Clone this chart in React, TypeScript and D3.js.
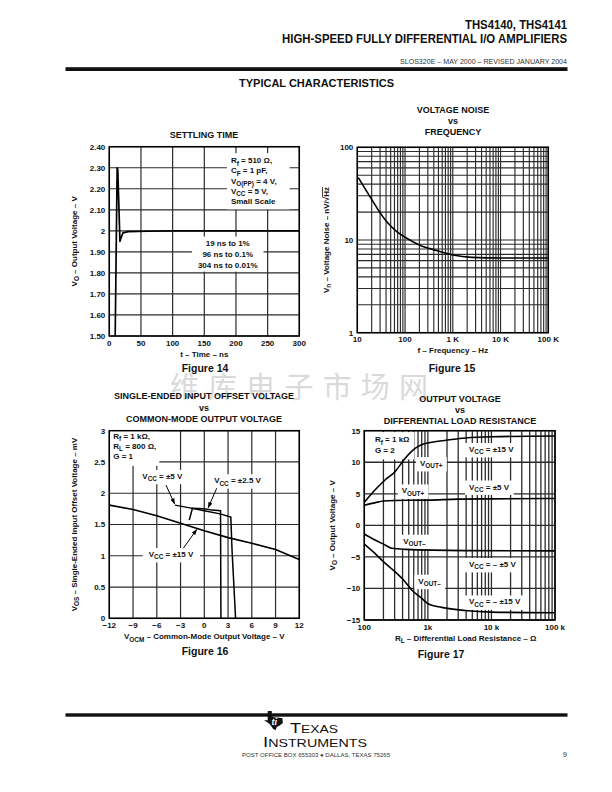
import React, { useRef, useLayoutEffect, useState } from 'react';
import * as d3 from 'd3';

const FONT = "'Liberation Sans', Arial, Helvetica, sans-serif";
const INK = '#111';
const GRID = '#2b2b2b';

// ---------- Figure 14: settling time ----------
const settlingTimeNs = [9.3, 12.4, 13.4, 16.8, 18.3, 21.5, 30, 60, 100, 300];
const settlingVolts = [1.5, 2.3, 2.29, 1.95, 1.965, 1.99, 1.996, 1.998, 2.0, 2.0];
const settlingXTicks = [0, 50, 100, 150, 200, 250, 300];
const settlingYTicks = [1.5, 1.6, 1.7, 1.8, 1.9, 2.0, 2.1, 2.2, 2.3, 2.4];
const settlingYLabels = ['1.50', '1.60', '1.70', '1.80', '1.90', '2', '2.10', '2.20', '2.30', '2.40'];

// ---------- Figure 15: voltage noise ----------
const noiseFreqHz = [10.5, 18.4, 27.6, 41, 67, 100, 204, 457, 1000, 2500, 10000, 100000];
const noiseNv = [47, 29.4, 21, 15.8, 12.3, 10.7, 8.8, 7.7, 6.9, 6.5, 6.4, 6.4];
const noiseXTicks = [10, 100, 1000, 10000, 100000];
const noiseXLabels = ['10', '100', '1 K', '10 K', '100 K'];
const noiseYTicks = [1, 10, 100];
const noiseYLabels = ['1', '10', '100'];

// ---------- Figure 16: offset vs VOCM ----------
const vocm15 = [-12, -9, -6, -3, 0, 3, 6, 9, 12];
const vos15 = [1.81, 1.74, 1.64, 1.52, 1.4, 1.29, 1.2, 1.1, 0.94];
const vocm5 = [-3.7, -2, 0, 2, 3.35, 3.5, 3.95];
const vos5 = [1.81, 1.77, 1.72, 1.67, 1.62, 1.1, 0];
const vocm25 = [-1.9, -1.5, 0, 1, 2.05, 2.1];
const vos25 = [1.57, 1.76, 1.75, 1.73, 1.72, 0];
const vocmTicks = [-12, -9, -6, -3, 0, 3, 6, 9, 12];
const vocmLabels = ['−12', '−9', '−6', '−3', '0', '3', '6', '9', '12'];
const vosTicks = [0, 0.5, 1, 1.5, 2, 2.5, 3];
const vosLabels = ['0', '0.5', '1', '1.5', '2', '2.5', '3'];

// ---------- Figure 17: output voltage vs load ----------
const rlPos15 = [100, 147, 212, 304, 437, 627, 848, 1217, 2370, 3840, 10000, 100000];
const voPos15 = [3.65, 5.6, 7.19, 8.5, 10.6, 12.2, 12.9, 13.2, 13.6, 13.84, 14.05, 14.15];
const rlPos5 = [100, 150, 200, 300, 1000, 3000, 10000, 100000];
const voPos5 = [3.2, 3.6, 3.85, 3.95, 4.0, 4.15, 4.2, 4.25];
const rlNeg5 = [100, 147, 212, 270, 437, 3840, 100000];
const voNeg5 = [-1.37, -2.32, -3.11, -3.64, -3.8, -4.0, -4.05];
const rlNeg15 = [100, 147, 212, 304, 437, 558, 800, 1020, 1650, 3840, 10000, 100000];
const voNeg15 = [-2.96, -4.43, -6.0, -7.34, -8.93, -10.25, -11.56, -12.46, -13.0, -13.5, -13.75, -13.85];
const rlTicks = [100, 1000, 10000, 100000];
const rlLabels = ['100', '1k', '10 k', '100 k'];
const voTicks = [-15, -10, -5, 0, 5, 10, 15];
const voLabels = ['−15', '−10', '−5', '0', '5', '10', '15'];

type Seg = string | { sub: string };

function Rich({ parts, fs }: { parts: Seg[]; fs: number }) {
  let shifted = false;
  const off = fs * 0.3;
  return (
    <>
      {parts.map((p, i) => {
        if (typeof p === 'string') {
          const dy = shifted ? -off : 0;
          shifted = false;
          return (
            <tspan key={i} dy={dy}>
              {p}
            </tspan>
          );
        }
        const dy = shifted ? 0 : off;
        shifted = true;
        return (
          <tspan key={i} dy={dy} fontSize={fs * 0.8}>
            {p.sub}
          </tspan>
        );
      })}
    </>
  );
}

function Boxed({ pad = [3, 3, 3, 3], children }: { pad?: number[]; children: React.ReactNode }) {
  const ref = useRef<SVGGElement>(null);
  const [bb, setBb] = useState<{ x: number; y: number; w: number; h: number } | null>(null);
  useLayoutEffect(() => {
    if (ref.current) {
      const b = ref.current.getBBox();
      setBb({ x: b.x, y: b.y, w: b.width, h: b.height });
    }
  }, []);
  return (
    <g>
      {bb && (
        <rect
          x={bb.x - pad[3]}
          y={bb.y - pad[0]}
          width={bb.w + pad[1] + pad[3]}
          height={bb.h + pad[0] + pad[2]}
          fill="#fff"
        />
      )}
      <g ref={ref}>{children}</g>
    </g>
  );
}

const TICK_FS = 8;
const TITLE_FS = 9;
const AXIS_FS = 8;
const ANN_FS = 8;

function logMinor(from: number, to: number) {
  const out: number[] = [];
  for (let d = from; d < to; d *= 10) for (let k = 1; k < 10; k++) out.push(d * k);
  out.push(to);
  return out;
}

function Titles({ cx, lines, y }: { cx: number; lines: string[]; y: number[] }) {
  return (
    <>
      {lines.map((l, i) => (
        <text key={i} x={cx} y={y[i]} textAnchor="middle" fontSize={TITLE_FS} fontWeight="bold" fill={INK}>
          {l}
        </text>
      ))}
    </>
  );
}

function Fig14() {
  const x = d3.scaleLinear().domain([0, 300]).range([109.3, 299.3]);
  const y = d3.scaleLinear().domain([1.5, 2.4]).range([336, 146.7]);
  const line = d3
    .line<number>()
    .x((_, i) => x(settlingTimeNs[i]))
    .y((d) => y(d));
  const [x0, x1] = x.range();
  const [y1, y0] = y.range();
  return (
    <g>
      <Titles cx={204} lines={['SETTLING TIME']} y={[137.5]} />
      {settlingXTicks.map((t) => (
        <line key={'v' + t} x1={x(t)} x2={x(t)} y1={y0} y2={y1} stroke={GRID} strokeWidth={1.2} />
      ))}
      {settlingYTicks.map((t) => (
        <line key={'h' + t} x1={x0} x2={x1} y1={y(t)} y2={y(t)} stroke={GRID} strokeWidth={1.2} />
      ))}
      <Boxed pad={[3, 13, 3, 4]}>
        {[
          ['R', { sub: 'f' }, ' = 510 Ω,'],
          ['C', { sub: 'F' }, ' = 1 pF,'],
          ['V', { sub: 'O(PP)' }, ' = 4 V,'],
          ['V', { sub: 'CC' }, ' = 5 V,'],
          ['Small Scale'],
        ].map((p, i) => (
          <text key={i} x={x(192)} y={y(2.322) + i * 10.3} fontSize={ANN_FS} fontWeight="bold" fill={INK}>
            <Rich parts={p as Seg[]} fs={ANN_FS} />
          </text>
        ))}
      </Boxed>
      <Boxed pad={[2, 6, 2, 6]}>
        {['19 ns to 1%', '96 ns to 0.1%', '304 ns to 0.01%'].map((s, i) => (
          <text key={i} x={x(187)} y={y(1.93) + i * 11} textAnchor="middle" fontSize={ANN_FS} fontWeight="bold" fill={INK}>
            {s}
          </text>
        ))}
      </Boxed>
      <clipPath id="clip14">
        <rect x={x0} y={y0} width={x1 - x0} height={y1 - y0} />
      </clipPath>
      <path d={line(settlingVolts) || ''} fill="none" stroke="#000" strokeWidth={1.7} clipPath="url(#clip14)" strokeLinejoin="round" />
      <rect x={x0} y={y0} width={x1 - x0} height={y1 - y0} fill="none" stroke="#000" strokeWidth={1.5} />
      {settlingYTicks.map((t, i) => (
        <text key={'yl' + t} x={x0 - 4} y={y(t)} dy="0.35em" textAnchor="end" fontSize={TICK_FS} fontWeight="bold" fill={INK}>
          {settlingYLabels[i]}
        </text>
      ))}
      {settlingXTicks.map((t) => (
        <text key={'xl' + t} x={x(t)} y={y1 + 9.5} textAnchor="middle" fontSize={TICK_FS} fontWeight="bold" fill={INK}>
          {t}
        </text>
      ))}
      <text x={(x0 + x1) / 2} y={y1 + 20.5} textAnchor="middle" fontSize={AXIS_FS} fontWeight="bold" fill={INK}>
        t – Time – ns
      </text>
      <text transform={`translate(77,${(y0 + y1) / 2}) rotate(-90)`} textAnchor="middle" fontSize={AXIS_FS} fontWeight="bold" fill={INK}>
        <Rich parts={['V', { sub: 'O' }, ' – Output Voltage – V']} fs={AXIS_FS} />
      </text>
      <text x={205} y={372} textAnchor="middle" fontSize={10.5} fontWeight="bold" fill={INK}>
        Figure 14
      </text>
    </g>
  );
}

function Fig15() {
  const x = d3.scaleLog().domain([10, 100000]).range([357.3, 548.3]);
  const y = d3.scaleLog().domain([1, 100]).range([332.7, 147.3]);
  const line = d3
    .line<number>()
    .x((_, i) => x(noiseFreqHz[i]))
    .y((d) => y(d))
    .curve(d3.curveMonotoneX);
  const [x0, x1] = x.range();
  const [y1, y0] = y.range();
  return (
    <g>
      <Titles cx={453} lines={['VOLTAGE NOISE', 'vs', 'FREQUENCY']} y={[113, 123.5, 134.5]} />
      {logMinor(10, 100000).map((t) => (
        <line key={'v' + t} x1={x(t)} x2={x(t)} y1={y0} y2={y1} stroke={GRID} strokeWidth={1.15} />
      ))}
      {logMinor(1, 100).map((t) => (
        <line key={'h' + t} x1={x0} x2={x1} y1={y(t)} y2={y(t)} stroke={GRID} strokeWidth={1.15} />
      ))}
      <path d={line(noiseNv) || ''} fill="none" stroke="#000" strokeWidth={1.6} />
      <rect x={x0} y={y0} width={x1 - x0} height={y1 - y0} fill="none" stroke="#000" strokeWidth={1.5} />
      {noiseYTicks.map((t, i) => (
        <text key={'yl' + t} x={x0 - 4} y={y(t)} dy="0.35em" textAnchor="end" fontSize={TICK_FS} fontWeight="bold" fill={INK}>
          {noiseYLabels[i]}
        </text>
      ))}
      {noiseXTicks.map((t, i) => (
        <text key={'xl' + t} x={x(t)} y={y1 + 9.5} textAnchor="middle" fontSize={TICK_FS} fontWeight="bold" fill={INK}>
          {noiseXLabels[i]}
        </text>
      ))}
      <text x={(x0 + x1) / 2} y={y1 + 20.5} textAnchor="middle" fontSize={AXIS_FS} fontWeight="bold" fill={INK}>
        f – Frequency – Hz
      </text>
      <text transform={`translate(329,${(y0 + y1) / 2}) rotate(-90)`} textAnchor="middle" fontSize={AXIS_FS} fontWeight="bold" fill={INK}>
        <Rich parts={['V', { sub: 'n' }, ' – Voltage Noise – nV/√']} fs={AXIS_FS} />
        <tspan textDecoration="overline">Hz</tspan>
      </text>
      <text x={452} y={372} textAnchor="middle" fontSize={10.5} fontWeight="bold" fill={INK}>
        Figure 15
      </text>
    </g>
  );
}

function Fig16() {
  const x = d3.scaleLinear().domain([-12, 12]).range([109.3, 299.3]);
  const y = d3.scaleLinear().domain([0, 3]).range([618.3, 430.7]);
  const mk = (xs: number[]) =>
    d3
      .line<number>()
      .x((_, i) => x(xs[i]))
      .y((d) => y(d));
  const [x0, x1] = x.range();
  const [y1, y0] = y.range();
  const arrows = [
    { from: [-4.84, 2.13], to: [-3.75, 1.83] },
    { from: [1.57, 2.08], to: [0.5, 1.77] },
    { from: [-2.65, 1.12], to: [-0.96, 1.42] },
  ];
  return (
    <g>
      <defs>
        <marker id="arr16" viewBox="0 0 10 10" refX="9" refY="5" markerWidth="6" markerHeight="6" orient="auto">
          <path d="M0,1.5 L10,5 L0,8.5 z" fill="#000" />
        </marker>
      </defs>
      <Titles cx={204} lines={['SINGLE-ENDED INPUT OFFSET VOLTAGE', 'vs', 'COMMON-MODE OUTPUT VOLTAGE']} y={[398.5, 410.5, 421.5]} />
      {vocmTicks.map((t) => (
        <line key={'v' + t} x1={x(t)} x2={x(t)} y1={y0} y2={y1} stroke={GRID} strokeWidth={1.2} />
      ))}
      {vosTicks.map((t) => (
        <line key={'h' + t} x1={x0} x2={x1} y1={y(t)} y2={y(t)} stroke={GRID} strokeWidth={1.2} />
      ))}
      <Boxed pad={[3, 3, 5, 4]}>
        {[
          ['R', { sub: 'f' }, ' = 1 kΩ,'],
          ['R', { sub: 'L' }, ' = 800 Ω,'],
          ['G = 1'],
        ].map((p, i) => (
          <text key={i} x={x(-11.5)} y={y(2.87) + i * 10} fontSize={ANN_FS} fontWeight="bold" fill={INK}>
            <Rich parts={p as Seg[]} fs={ANN_FS} />
          </text>
        ))}
      </Boxed>
      <Boxed pad={[2, 4, 2, 4]}>
        <text x={x(-5.3)} y={y(2.23)} textAnchor="middle" fontSize={ANN_FS} fontWeight="bold" fill={INK}>
          <Rich parts={['V', { sub: 'CC' }, ' = ±5 V']} fs={ANN_FS} />
        </text>
      </Boxed>
      <Boxed pad={[2, 4, 2, 4]}>
        <text x={x(4.2)} y={y(2.16)} textAnchor="middle" fontSize={ANN_FS} fontWeight="bold" fill={INK}>
          <Rich parts={['V', { sub: 'CC' }, ' = ±2.5 V']} fs={ANN_FS} />
        </text>
      </Boxed>
      <Boxed pad={[2, 6, 2, 6]}>
        <text x={x(-4.2)} y={y(0.98)} textAnchor="middle" fontSize={ANN_FS} fontWeight="bold" fill={INK}>
          <Rich parts={['V', { sub: 'CC' }, ' = ±15 V']} fs={ANN_FS} />
        </text>
      </Boxed>
      <path d={mk(vocm15)(vos15) || ''} fill="none" stroke="#000" strokeWidth={1.6} />
      <path d={mk(vocm5)(vos5) || ''} fill="none" stroke="#000" strokeWidth={1.5} />
      <path d={mk(vocm25)(vos25) || ''} fill="none" stroke="#000" strokeWidth={1.5} />
      {arrows.map((a, i) => (
        <line
          key={i}
          x1={x(a.from[0])}
          y1={y(a.from[1])}
          x2={x(a.to[0])}
          y2={y(a.to[1])}
          stroke="#000"
          strokeWidth={1}
          markerEnd="url(#arr16)"
        />
      ))}
      <rect x={x0} y={y0} width={x1 - x0} height={y1 - y0} fill="none" stroke="#000" strokeWidth={1.5} />
      {vosTicks.map((t, i) => (
        <text key={'yl' + t} x={x0 - 4} y={y(t)} dy="0.35em" textAnchor="end" fontSize={TICK_FS} fontWeight="bold" fill={INK}>
          {vosLabels[i]}
        </text>
      ))}
      {vocmTicks.map((t, i) => (
        <text key={'xl' + t} x={x(t)} y={y1 + 9.5} textAnchor="middle" fontSize={TICK_FS} fontWeight="bold" fill={INK}>
          {vocmLabels[i]}
        </text>
      ))}
      <text x={(x0 + x1) / 2} y={y1 + 21} textAnchor="middle" fontSize={AXIS_FS} fontWeight="bold" fill={INK}>
        <Rich parts={['V', { sub: 'OCM' }, ' – Common-Mode Output Voltage – V']} fs={AXIS_FS} />
      </text>
      <text transform={`translate(77,${(y0 + y1) / 2}) rotate(-90)`} textAnchor="middle" fontSize={AXIS_FS} fontWeight="bold" fill={INK}>
        <Rich parts={['V', { sub: 'OS' }, ' – Single-Ended Input Offset Voltage – mV']} fs={AXIS_FS} />
      </text>
      <text x={205} y={655} textAnchor="middle" fontSize={10.5} fontWeight="bold" fill={INK}>
        Figure 16
      </text>
    </g>
  );
}

function Fig17() {
  const x = d3.scaleLog().domain([100, 100000]).range([364.3, 555]);
  const y = d3.scaleLinear().domain([-15, 15]).range([620, 430.7]);
  const mk = (xs: number[]) =>
    d3
      .line<number>()
      .x((_, i) => x(xs[i]))
      .y((d) => y(d))
      .curve(d3.curveMonotoneX);
  const [x0, x1] = x.range();
  const [y1, y0] = y.range();
  const labels: { f: number; v: number; parts: Seg[]; pad: number[] }[] = [
    { f: 4440, v: 11.62, parts: ['V', { sub: 'CC' }, ' = ±15 V'], pad: [2, 4, 2, 4] },
    { f: 751, v: 9.4, parts: ['V', { sub: 'OUT+' }], pad: [2, 4, 2, 4] },
    { f: 4440, v: 5.68, parts: ['V', { sub: 'CC' }, ' = ±5 V'], pad: [2, 4, 2, 4] },
    { f: 387, v: 5.05, parts: ['V', { sub: 'OUT+' }], pad: [2, 4, 2, 4] },
    { f: 410, v: -2.92, parts: ['V', { sub: 'OUT–' }], pad: [2, 4, 2, 4] },
    { f: 4440, v: -6.6, parts: ['V', { sub: 'CC' }, ' = – ±5 V'], pad: [2, 4, 2, 4] },
    { f: 708, v: -9.26, parts: ['V', { sub: 'OUT–' }], pad: [2, 4, 2, 4] },
    { f: 4440, v: -12.54, parts: ['V', { sub: 'CC' }, ' = – ±15 V'], pad: [2, 4, 2, 4] },
  ];
  return (
    <g>
      <Titles cx={460} lines={['OUTPUT VOLTAGE', 'vs', 'DIFFERENTIAL LOAD RESISTANCE']} y={[402, 413, 424]} />
      {logMinor(100, 100000).map((t) => (
        <line key={'v' + t} x1={x(t)} x2={x(t)} y1={y0} y2={y1} stroke={GRID} strokeWidth={1.3} />
      ))}
      {voTicks.map((t) => (
        <line key={'h' + t} x1={x0} x2={x1} y1={y(t)} y2={y(t)} stroke={GRID} strokeWidth={1.3} />
      ))}
      <Boxed pad={[3, 4, 4, 10]}>
        {[
          ['R', { sub: 'f' }, ' = 1 kΩ'],
          ['G = 2'],
        ].map((p, i) => (
          <text key={i} x={x(147)} y={y(13.19) + i * 11.3} fontSize={ANN_FS} fontWeight="bold" fill={INK}>
            <Rich parts={p as Seg[]} fs={ANN_FS} />
          </text>
        ))}
      </Boxed>
      {labels.map((l, i) => (
        <Boxed key={i} pad={l.pad}>
          <text x={x(l.f)} y={y(l.v)} fontSize={ANN_FS} fontWeight="bold" fill={INK}>
            <Rich parts={l.parts} fs={ANN_FS} />
          </text>
        </Boxed>
      ))}
      <path d={mk(rlPos15)(voPos15) || ''} fill="none" stroke="#000" strokeWidth={1.6} />
      <path d={mk(rlPos5)(voPos5) || ''} fill="none" stroke="#000" strokeWidth={1.6} />
      <path d={mk(rlNeg5)(voNeg5) || ''} fill="none" stroke="#000" strokeWidth={1.6} />
      <path d={mk(rlNeg15)(voNeg15) || ''} fill="none" stroke="#000" strokeWidth={1.6} />
      <rect x={x0} y={y0} width={x1 - x0} height={y1 - y0} fill="none" stroke="#000" strokeWidth={1.5} />
      {voTicks.map((t, i) => (
        <text key={'yl' + t} x={x0 - 4} y={y(t)} dy="0.35em" textAnchor="end" fontSize={TICK_FS} fontWeight="bold" fill={INK}>
          {voLabels[i]}
        </text>
      ))}
      {rlTicks.map((t, i) => (
        <text key={'xl' + t} x={x(t)} y={y1 + 9.5} textAnchor="middle" fontSize={TICK_FS} fontWeight="bold" fill={INK}>
          {rlLabels[i]}
        </text>
      ))}
      <text x={(x0 + x1) / 2 + 6} y={y1 + 21} textAnchor="middle" fontSize={AXIS_FS} fontWeight="bold" fill={INK}>
        <Rich parts={['R', { sub: 'L' }, ' – Differential Load Resistance – Ω']} fs={AXIS_FS} />
      </text>
      <text transform={`translate(335,${(y0 + y1) / 2}) rotate(-90)`} textAnchor="middle" fontSize={AXIS_FS} fontWeight="bold" fill={INK}>
        <Rich parts={['V', { sub: 'O' }, ' – Output Voltage – V']} fs={AXIS_FS} />
      </text>
      <text x={441} y={658} textAnchor="middle" fontSize={10.5} fontWeight="bold" fill={INK}>
        Figure 17
      </text>
    </g>
  );
}

function Header() {
  return (
    <g fill={INK}>
      <text x={465} y={28.5} fontSize={12} fontWeight="bold" textLength={102} lengthAdjust="spacingAndGlyphs">
        THS4140, THS4141
      </text>
      <text x={282} y={43} fontSize={12} fontWeight="bold" textLength={285} lengthAdjust="spacingAndGlyphs">
        HIGH-SPEED FULLY DIFFERENTIAL I/O AMPLIFIERS
      </text>
      <text x={400} y={63.5} fontSize={6.3} textLength={167} lengthAdjust="spacingAndGlyphs" fill="#333">
        SLOS320E – MAY 2000 – REVISED JANUARY 2004
      </text>
      <rect x={65.5} y={67.2} width={502} height={3.8} fill="#111" />
      <text x={239} y={87} fontSize={10} fontWeight="bold" textLength={155} lengthAdjust="spacingAndGlyphs">
        TYPICAL CHARACTERISTICS
      </text>
    </g>
  );
}

function Watermark() {
  return (
    <text
      x={170}
      y={398}
      fontSize={29}
      fill="#dadada"
      fontFamily="'Noto Sans CJK SC', sans-serif"
      textLength={258}
      lengthAdjust="spacing"
    >
      维库电子市场网
    </text>
  );
}

function Footer() {
  const tx = 264;
  const ty = 711;
  const s = 0.92;
  const texas = [
    [4, 0], [8.5, 0], [8.5, 6], [12, 7], [17, 7.3], [20, 8], [20.5, 13], [17.5, 15.5], [14, 17.5],
    [12.5, 21], [10, 19.5], [8, 16.5], [6, 14], [4, 12.5], [2, 11.5], [0, 10], [4, 10],
  ];
  const d = 'M' + texas.map((p) => `${tx + p[0] * s},${ty + p[1] * s}`).join('L') + 'Z';
  return (
    <g fill={INK}>
      <rect x={65.5} y={713.3} width={502} height={3.4} fill="#111" />
      <path d={d} fill="#111" />
      <text x={tx + 7.5} y={ty + 14} fontSize={9} fontWeight="bold" fontStyle="italic" fill="#fff">
        ti
      </text>
      <text x={290} y={733} fontSize={15} textLength={48} lengthAdjust="spacingAndGlyphs">
        T<tspan fontSize={11.5}>EXAS</tspan>
      </text>
      <text x={263} y={747} fontSize={15} textLength={104} lengthAdjust="spacingAndGlyphs">
        I<tspan fontSize={11.5}>NSTRUMENTS</tspan>
      </text>
      <text x={242} y={756.5} fontSize={5.6} textLength={148} lengthAdjust="spacingAndGlyphs" fill="#333">
        POST OFFICE BOX 655303 ● DALLAS, TEXAS 75265
      </text>
      <text x={567} y={757} fontSize={7.5} textAnchor="end" fill="#333">
        9
      </text>
    </g>
  );
}

export default function App() {
  return (
    <svg
      width={612}
      height={792}
      viewBox="0 0 612 792"
      style={{ position: 'absolute', left: 0, top: 0, background: '#fff' }}
      fontFamily={FONT}
    >
      <rect width={612} height={792} fill="#fff" />
      <Watermark />
      <Header />
      <Fig14 />
      <Fig15 />
      <Fig16 />
      <Fig17 />
      <Footer />
    </svg>
  );
}
